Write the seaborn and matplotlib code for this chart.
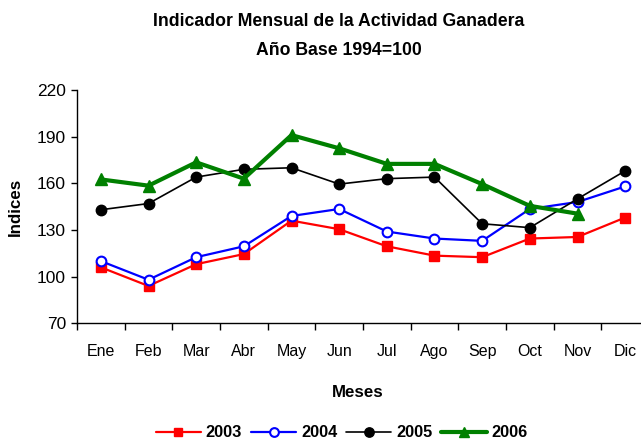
import matplotlib
matplotlib.use("Agg")
import matplotlib.pyplot as plt
from matplotlib.ticker import FixedLocator
import seaborn as sns
import pandas as pd

meses = ["Ene", "Feb", "Mar", "Abr", "May", "Jun", "Jul", "Ago", "Sep", "Oct", "Nov", "Dic"]
v2003 = [106, 94, 108, 114.5, 136, 130.5, 119.5, 113.5, 112.5, 124.5, 125.5, 138]
v2004 = [110, 98, 112.5, 119.5, 139, 143.5, 129, 124.5, 123, 143.5, 148, 158]
v2005 = [143, 147, 164, 169, 170, 159.5, 163, 164, 134, 131.5, 150, 168]
v2006 = [162.5, 158.5, 173.5, 163, 191, 182.5, 172.5, 172.5, 159.5, 145.5, 140.5]
anios = ["2003", "2004", "2005", "2006"]
yticks = [70, 100, 130, 160, 190, 220]

series = {"2003": v2003, "2004": v2004, "2005": v2005, "2006": v2006}
df = pd.concat(
    [pd.DataFrame({"Mes": meses[:len(v)], "pos": range(len(v)), "Indice": v, "Año": a})
     for a, v in series.items()],
    ignore_index=True,
)

sns.set_theme(style="white")
plt.rcParams["font.family"] = ["Liberation Sans", "DejaVu Sans"]
plt.rcParams["text.color"] = "black"
plt.rcParams["axes.labelcolor"] = "black"
plt.rcParams["xtick.color"] = "black"
plt.rcParams["ytick.color"] = "black"

fig = plt.figure(figsize=(6.41, 4.40), dpi=100)
ax = fig.add_axes([77 / 641, 116.7 / 440, 572 / 641, 233.3 / 440])

styles = {
    "2003": dict(color="#ff0000", marker="s", markersize=7, lw=1.6, mfc="#ff0000", mec="#ff0000"),
    "2004": dict(color="#0000ff", marker="o", markersize=7, lw=1.6, mfc="white", mec="#0000ff", mew=1.5),
    "2005": dict(color="#000000", marker="o", markersize=7.5, lw=1.2, mfc="black", mec="black"),
    "2006": dict(color="#008000", marker="^", markersize=8.5, lw=3.0, mfc="#008000", mec="#008000"),
}
for a in anios:
    st = styles[a]
    sub = df[df["Año"] == a]
    sns.lineplot(data=sub, x="pos", y="Indice", ax=ax, color=st["color"], lw=st["lw"],
                 marker=st["marker"], markersize=st["markersize"],
                 markerfacecolor=st["mfc"], markeredgecolor=st["mec"],
                 markeredgewidth=st.get("mew", 1.0), label=a, legend=False)

ax.set_xlim(-0.5, 11.5)
ax.set_ylim(70, 220)
ax.set_yticks(yticks)
ax.set_yticklabels([str(t) for t in yticks], fontsize=12.5)
ax.set_xticks(range(len(meses)))
ax.set_xticklabels(meses, fontsize=11.5)
ax.xaxis.set_minor_locator(FixedLocator([i - 0.5 for i in range(len(meses) + 1)]))
ax.tick_params(axis="x", which="major", length=0, pad=15)
ax.tick_params(axis="x", which="minor", length=5, width=1, direction="out", color="black", bottom=True)
ax.tick_params(axis="y", length=4, width=1, direction="out", color="black", left=True, pad=4)

for s in ["top", "right"]:
    ax.spines[s].set_visible(False)
for s in ["left", "bottom"]:
    ax.spines[s].set_color("black")
    ax.spines[s].set_linewidth(1.0)
ax.grid(False)

ax.set_xlabel("Meses", fontsize=12.2, fontweight="bold")
ax.set_ylabel("Indices", fontsize=12.2, fontweight="bold", labelpad=10)
ax.xaxis.set_label_coords((358 - 77) / 572, -(385 - 323.3) / 233.3)

fig.text(0.528, 0.950, "Indicador Mensual de la Actividad Ganadera", ha="center", va="center",
         fontsize=12.7, fontweight="bold")
fig.text(0.528, 0.886, "Año Base 1994=100", ha="center", va="center",
         fontsize=12.7, fontweight="bold")

handles = [ax.lines[i] for i in range(4)]
fig.legend(handles, anios, loc="center", bbox_to_anchor=(0.533, 0.016), ncol=4, frameon=False,
           prop={"weight": "bold", "size": 11.8}, handlelength=2.75, handletextpad=0.3,
           columnspacing=0.55, markerscale=0.9)

fig.savefig("out.png", dpi=100)
